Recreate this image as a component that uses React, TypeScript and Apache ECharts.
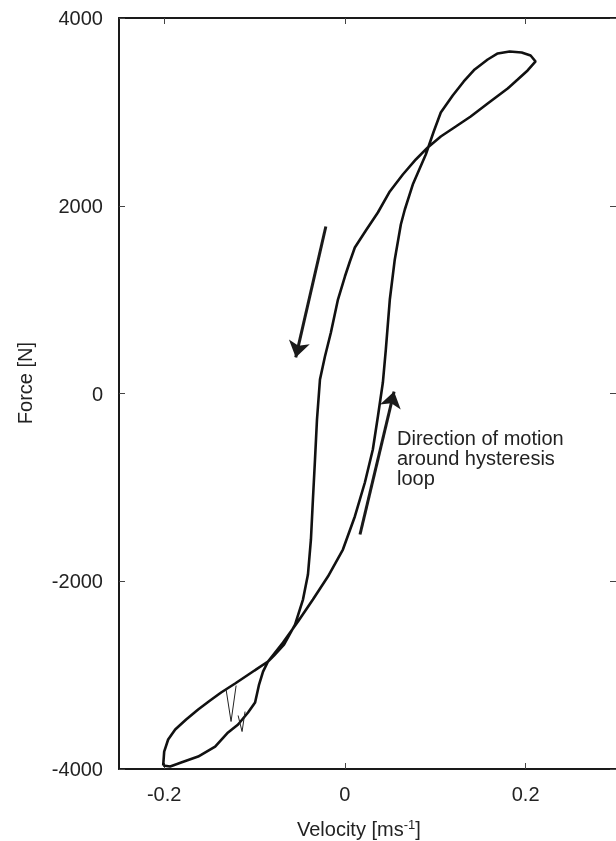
import React, { useEffect, useRef } from "react";
import * as echarts from "echarts";

// Hysteresis loop (velocity in m/s, force in N), traced in order around the loop
const loopVelocity = [
  -0.2011, -0.2, -0.1956, -0.1878, -0.1757, -0.1624, -0.1492, -0.137, -0.1215, -0.105, -0.0851,
  -0.0685, -0.0519, -0.0354, -0.0188, -0.0022, 0.011, 0.0221, 0.0309, 0.0365, 0.042, 0.0453, 0.0497,
  0.0552, 0.0619, 0.0663, 0.0751, 0.0895, 0.0983, 0.1061, 0.1193, 0.1315, 0.1436, 0.158, 0.1691,
  0.1823, 0.1956, 0.2055, 0.211, 0.2022, 0.1912, 0.1801, 0.158, 0.1392, 0.1227, 0.1061, 0.0917,
  0.0785, 0.0641, 0.0497, 0.0365, 0.0232, 0.011, 0.0055, 0.0, -0.0077, -0.0155, -0.0221, -0.0276,
  -0.0309, -0.0331, -0.0354, -0.0376, -0.0409, -0.0464, -0.0552, -0.0674, -0.0785, -0.0851, -0.0906, -0.095, -0.0994,
  -0.1072, -0.1182, -0.1293, -0.1436, -0.1624, -0.1812, -0.1934, -0.2011,
];
const loopForce = [
  -3963, -3814, -3686, -3579, -3473, -3366, -3270, -3185, -3089, -2983, -2855,
  -2653, -2429, -2195, -1950, -1662, -1310, -948, -597, -245, 117, 469, 1001,
  1428, 1800, 1960, 2226, 2546, 2791, 2993, 3175, 3324, 3452, 3558, 3622,
  3643, 3633, 3601, 3537, 3441, 3345, 3249, 3089, 2951, 2844, 2738, 2621,
  2493, 2333, 2152, 1928, 1736, 1555, 1406, 1246, 1001, 650, 394, 149,
  -277, -703, -1129, -1555, -1928, -2195, -2461, -2674, -2791, -2855, -2962, -3100, -3292,
  -3398, -3526, -3611, -3761, -3867, -3931, -3974, -3963,
];

// Thin glitch spikes on the lower lobe
const spikeVelocity = [-0.1315, -0.126, -0.1204, null, -0.1182, -0.1138, -0.1105];
const spikeForce = [-3153, -3494, -3111, null, -3430, -3601, -3388];

// Direction arrows: [tailV, tailF, headV, headF]
const arrowDown = [-0.0211, 1779, -0.0544, 384];
const arrowUp = [0.0167, -1502, 0.0544, 21];

const xTicks = [-0.2, 0, 0.2];

const FONT = "'Liberation Sans', Arial, Helvetica, sans-serif";

export default function App() {
  const ref = useRef<HTMLDivElement>(null);

  useEffect(() => {
    if (!ref.current) return;
    const chart = echarts.init(ref.current, null, { renderer: "svg" });

    const loopData = loopVelocity.map((v, i) => [v, loopForce[i]]);
    const spikeData = spikeVelocity.map((v, i) =>
      v === null ? [null, null] : [v, spikeForce[i]]
    );

    const axisLine = { show: true, onZero: false, lineStyle: { color: "#1a1a1a", width: 2 } };
    const axisTick = {
      show: true,
      inside: true,
      length: 6,
      lineStyle: { color: "#444", width: 1 },
    };

    const arrowLine = (a: number[]) => [
      { coord: [a[0], a[1]], symbol: "none" },
      { coord: [a[2], a[3]], symbol: "arrow", symbolSize: 16 },
    ];

    chart.setOption({
      animation: false,
      grid: { left: 119, top: 18, width: 501, height: 751 },
      xAxis: [
        {
          type: "value",
          position: "bottom",
          min: -0.25,
          max: 0.3,
          axisLine,
          axisTick: { ...axisTick, customValues: xTicks },
          splitLine: { show: false },
          axisLabel: {
            customValues: xTicks,
            margin: 15,
            fontSize: 20,
            fontFamily: FONT,
            color: "#222",
            formatter: (v: number) => String(v),
          },
        },
        {
          type: "value",
          position: "top",
          min: -0.25,
          max: 0.3,
          axisLine,
          axisTick: { ...axisTick, customValues: xTicks },
          splitLine: { show: false },
          axisLabel: { show: false },
        },
      ],
      yAxis: [
        {
          type: "value",
          position: "left",
          min: -4000,
          max: 4000,
          interval: 2000,
          axisLine,
          axisTick,
          splitLine: { show: false },
          axisLabel: {
            margin: 16,
            fontSize: 20,
            fontFamily: FONT,
            color: "#222",
            formatter: (v: number) => String(v),
          },
        },
        {
          type: "value",
          position: "right",
          min: -4000,
          max: 4000,
          interval: 2000,
          axisLine: { show: false, onZero: false },
          axisTick,
          splitLine: { show: false },
          axisLabel: { show: false },
        },
      ],
      series: [
        {
          type: "line",
          data: loopData,
          showSymbol: false,
          symbol: "none",
          lineStyle: { color: "#111", width: 2.6 },
          silent: true,
          markLine: {
            silent: true,
            symbol: ["none", "arrow"],
            symbolSize: 16,
            label: { show: false },
            lineStyle: { color: "#1a1a1a", width: 3, type: "solid" },
            emphasis: { disabled: true },
            data: [arrowLine(arrowDown), arrowLine(arrowUp)],
          },
        },
        {
          type: "line",
          data: spikeData,
          showSymbol: false,
          symbol: "none",
          connectNulls: false,
          lineStyle: { color: "#222", width: 1 },
          silent: true,
        },
      ],
      graphic: [
        {
          type: "text",
          x: 25,
          y: 383,
          rotation: Math.PI / 2,
          style: {
            text: "Force [N]",
            fontSize: 20,
            fontFamily: FONT,
            fill: "#222",
            textAlign: "center",
            textVerticalAlign: "middle",
          },
        },
        {
          type: "text",
          x: 297,
          y: 818,
          style: {
            text: "Velocity [ms{sup|-1}]",
            fontSize: 20,
            lineHeight: 22,
            fontFamily: FONT,
            fill: "#222",
            textVerticalAlign: "top",
            rich: {
              sup: {
                fontSize: 13,
                lineHeight: 13,
                verticalAlign: "top",
                fontFamily: FONT,
                fill: "#222",
              },
            },
          },
        },
        {
          type: "text",
          x: 397,
          y: 428,
          style: {
            text: "Direction of motion\naround hysteresis\nloop",
            fontSize: 20,
            lineHeight: 20,
            fontFamily: FONT,
            fill: "#222",
            textVerticalAlign: "top",
          },
        },
      ],
    });

    return () => chart.dispose();
  }, []);

  return (
    <div
      ref={ref}
      style={{ position: "fixed", left: 0, top: 0, width: 616, height: 841 }}
    />
  );
}
